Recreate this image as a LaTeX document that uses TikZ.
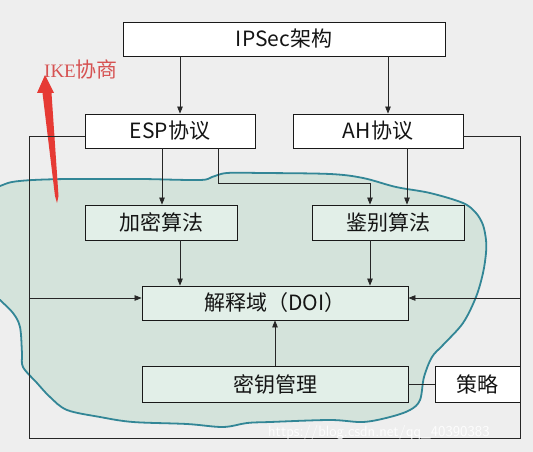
\documentclass[tikz,border=0pt]{standalone}
\usepackage{fontspec}
\setmainfont{Noto Sans CJK SC}
\newfontfamily\latinserif{Liberation Serif}
\usetikzlibrary{arrows.meta}
\definecolor{bgc}{RGB}{238,238,238}
\definecolor{blobfill}{RGB}{212,227,219}
\definecolor{blobline}{RGB}{50,134,150}
\definecolor{mint}{RGB}{226,239,232}
\definecolor{ikered}{RGB}{230,58,52}
\definecolor{iketext}{RGB}{214,82,82}
\begin{document}
\begin{tikzpicture}[x=1pt,y=-1pt,
  box/.style={draw=black!90, line width=0.8pt, minimum height=34pt, inner sep=0pt,
              font=\fontsize{21}{24}\selectfont, text=black!92},
  wbox/.style={box, fill=white},
  gbox/.style={box, fill=mint},
  conn/.style={draw=black!85, line width=0.75pt},
  arr/.style={conn, -{Triangle[length=7pt,width=5.5pt]}}]
\useasboundingbox (0,0) rectangle (533,452);
\fill[bgc] (0,0) rectangle (533,452);
% cloud region
\draw[fill=blobfill, draw=blobline, line width=1.8pt]
  plot[smooth cycle, tension=0.55] coordinates {
  (-12,190) (0,186) (12,182) (33,180) (67,179) (110,179) (143,179) (200,180)
  (212,177) (227,173) (263,173) (330,174) (363,178) (396,187) (430,193)
  (463,203) (476,213) (483,225) (486,240) (486,253) (483,273) (476,297)
  (463,323) (443,345) (432,357) (424,377) (420,400) (410,410) (390,417)
  (363,422) (330,420) (270,422) (247,423) (223,427) (187,424) (133,422)
  (100,417) (67,410) (50,397) (37,383) (23,367) (22,353) (20,327) (13,313)
  (0,300) (-10,290)};
% IKE arrow and label
\fill[ikered] (45,75) -- (54,93) -- (51.5,93) -- (58.5,196) -- (57,203)
  -- (55,196) -- (42.5,93) -- (37,93) -- cycle;
\node[text=iketext, inner sep=0pt, anchor=west] (ike) at (44,69)
  {\fontsize{19}{20}\latinserif IKE\fontsize{21}{22}\selectfont\rmfamily 协商};
% boxes
\node[wbox, minimum width=322pt] (ipsec) at (284,39) {IPSec架构};
\node[wbox, minimum width=170pt] (esp) at (170,131) {ESP协议};
\node[wbox, minimum width=170pt] (ah) at (378,131) {AH协议};
\node[gbox, minimum width=152pt, minimum height=35pt] (jiami) at (161,222.5) {加密算法};
\node[gbox, minimum width=152pt, minimum height=35pt] (jianbie) at (388,222.5) {鉴别算法};
\node[gbox, minimum width=266pt] (doi) at (275,303) {解释域（DOI）};
\node[gbox, minimum width=266pt, minimum height=36pt] (key) at (275,384) {密钥管理};
\node[wbox, minimum width=85pt, minimum height=36pt] (celue) at (477.5,384) {策略};
% corner coordinates
\coordinate (lt) at (29,136);
\coordinate (lm) at (29,298);
\coordinate (lb) at (29,438);
\coordinate (rt) at (520,136);
\coordinate (rm) at (520,298);
\coordinate (rb) at (520,438);
\coordinate (espturn) at (218,183);
% connectors
\draw[arr] (ipsec.south -| 180,0) -- (esp.north -| 180,0);
\draw[arr] (ipsec.south -| 388,0) -- (ah.north -| 388,0);
\draw[arr] (esp.south -| 162,0) -- (jiami.north -| 162,0);
\draw[arr] (esp.south -| espturn) -- (espturn) -- (espturn -| 370,0) -- (jianbie.north -| 370,0);
\draw[arr] (ah.south -| 407,0) -- (jianbie.north -| 407,0);
\draw[arr] (jiami.south -| 180,0) -- (doi.north -| 180,0);
\draw[arr] (jianbie.south -| 370,0) -- (doi.north -| 370,0);
\draw[arr] (esp.west |- lt) -- (lt) -- (lm) -- (doi.west |- lm);
\draw[arr] (ah.east |- rt) -- (rt) -- (rm) -- (doi.east |- rm);
\draw[conn] (lm) -- (lb) -- (rb) -- (rm);
\draw[arr] (key.north) -- (doi.south);
\draw[conn] (key.east) -- (celue.west);
% watermark
\node[text=white, opacity=0.9, font=\fontsize{15}{16}\selectfont\sffamily, anchor=west, inner sep=0pt]
  (wm) at (268,433) {https://blog.csdn.net/qq\_40390383};
\end{tikzpicture}
\end{document}
